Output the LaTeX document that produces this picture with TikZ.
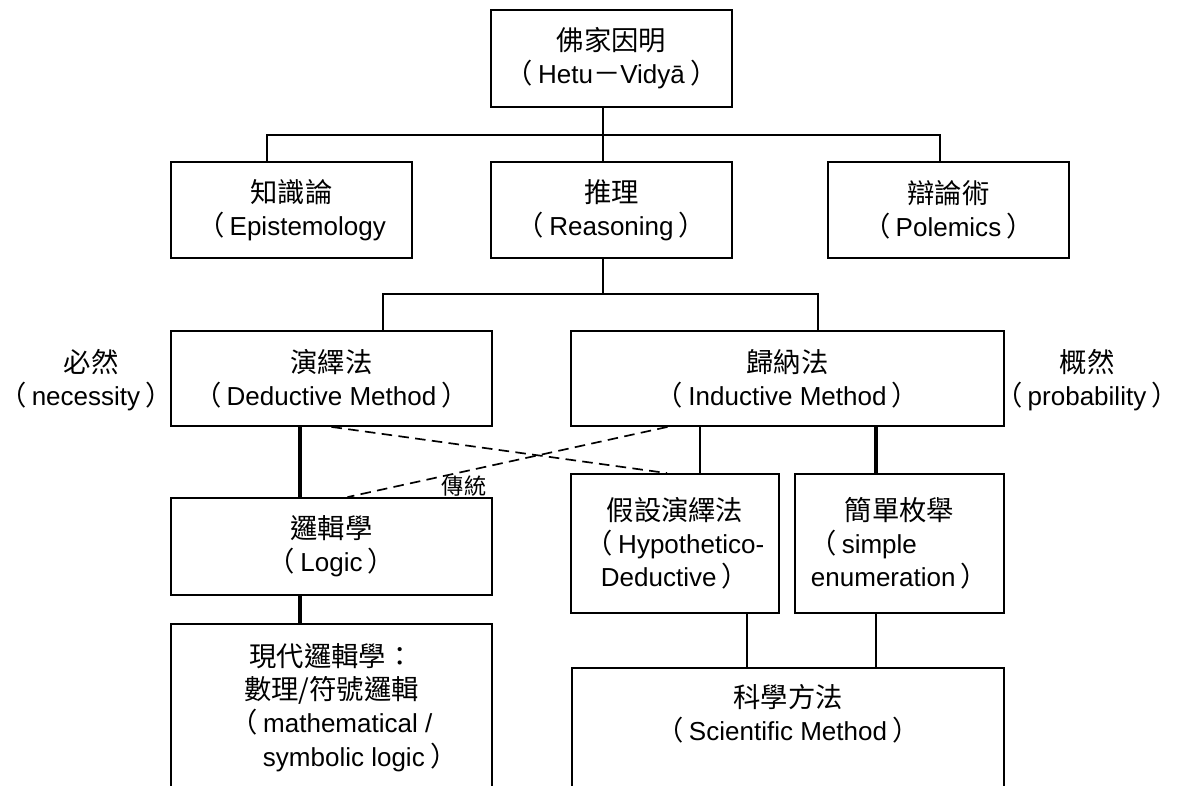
\documentclass[tikz,border=0pt]{standalone}
\usepackage{fontspec}
\setmainfont{Liberation Sans}
\newfontfamily\cjk[Scale=1.05]{Noto Sans CJK TC}
\usetikzlibrary{calc}
\newcommand{\fwl}{{\cjk （}\kern0.2em}
\newcommand{\fwr}{\kern0.2em{\cjk ）}}

\begin{document}
\begin{tikzpicture}[x=0.025cm,y=-0.025cm,
  box/.style 2 args={draw,line width=1.3pt,minimum width=#1*0.025cm,minimum height=#2*0.025cm,inner sep=0pt,align=center,font=\fontsize{18.5}{23.5}\selectfont},
  side/.style={align=center,inner sep=0pt,font=\fontsize{18.5}{23.5}\selectfont},
  note/.style={font=\cjk\fontsize{15}{18}\selectfont},
  line/.style={line width=1.1pt},
  midline/.style={line width=1.8pt},
  heavy/.style={line width=3.5pt},
  dashline/.style={line width=1.2pt,dash pattern=on 7.5pt off 4.5pt}]
\useasboundingbox (0,0) rectangle (1178,785);
\clip (0,0) rectangle (1178,785);

\node[box={241}{97}] (hetu) at (611.5,58.5) {{\cjk 佛家因明}\\\fwl Hetu{\cjk －}Vidyā\fwr};
\node[box={241}{96}] (epis) at (291.5,210) {{\cjk 知識論}\\\fwl Epistemology};
\node[box={241}{96}] (reason) at (611.5,210) {{\cjk 推理}\\\fwl Reasoning\fwr};
\node[box={241}{96}] (polem) at (948.5,210) {{\cjk 辯論術}\\\fwl Polemics\fwr};

\node[box={321}{95}] (deduct) at (331.5,378.5) {{\cjk 演繹法}\\\fwl Deductive Method\fwr};
\node[box={433}{95}] (induct) at (787.5,378.5) {{\cjk 歸納法}\\\fwl Inductive Method\fwr};
\node[side] (nec) at (86,380) {\hspace*{0.4em}{\cjk 必然}\\\fwl necessity\fwr};
\node[side] (prob) at (1087,380) {{\cjk 概然}\\\fwl probability\fwr};

\node[box={321}{97}] (logic) at (331.5,546.5) {{\cjk 邏輯學}\\\fwl Logic\fwr};
\node[box={208}{139}] (hypo) at (675,543.5) {{\cjk 假設演繹法}\\\fwl Hypothetico-\\Deductive\fwr};
\node[box={209}{139}] (simple) at (899.5,543.5) {{\cjk 簡單枚舉}\\\fwl simple\hspace*{2.8em}\mbox{}\\enumeration\fwr};
\node[box={321}{10},anchor=north,inner ysep=0.5cm,text depth=3cm] (modern) at (331.5,623) {{\cjk 現代邏輯學：}\\{\cjk 數理/符號邏輯}\\\fwl mathematical /\\\hspace*{2.2em}symbolic logic\fwr};
\node[box={432}{10},anchor=north,inner ysep=0.4cm,text depth=3cm] (sci) at (788,667) {{\cjk 科學方法}\\\fwl Scientific Method\fwr};
\node[note] (trad) at (464,486) {傳統};

\coordinate (t0) at (267,135); \coordinate (t1) at (603,135); \coordinate (t2) at (940,135);
\coordinate (m1) at (383,294); \coordinate (m2) at (818,294);
\coordinate (lx) at (300,0); \coordinate (hx) at (700,0);
\coordinate (sx) at (876,0); \coordinate (cx) at (747,0);

\draw[midline] (hetu.south -| t1) -- (reason.north -| t1);
\draw[line] (epis.north -| t0) |- (t2) -- (polem.north -| t2);
\draw[midline] (reason.south -| t1) -- (t1 |- m1);
\draw[line] (deduct.north -| m1) |- (m2) -- (induct.north -| m2);
\draw[heavy] (deduct.south -| lx) -- (logic.north -| lx);
\draw[heavy] (logic.south -| lx) -- (modern.north -| lx);
\draw[line] (induct.south -| hx) -- (hypo.north -| hx);
\draw[heavy] (induct.south -| sx) -- (simple.north -| sx);
\draw[line] (hypo.south -| cx) -- (sci.north -| cx);
\draw[line] (simple.south -| sx) -- (sci.north -| sx);
\draw[dashline] (deduct.south) -- ($(hypo.north)+(-8,0)$);
\draw[dashline] ($(induct.south)+(-120,0)$) -- ($(logic.north)+(16,0)$);
\end{tikzpicture}
\end{document}
